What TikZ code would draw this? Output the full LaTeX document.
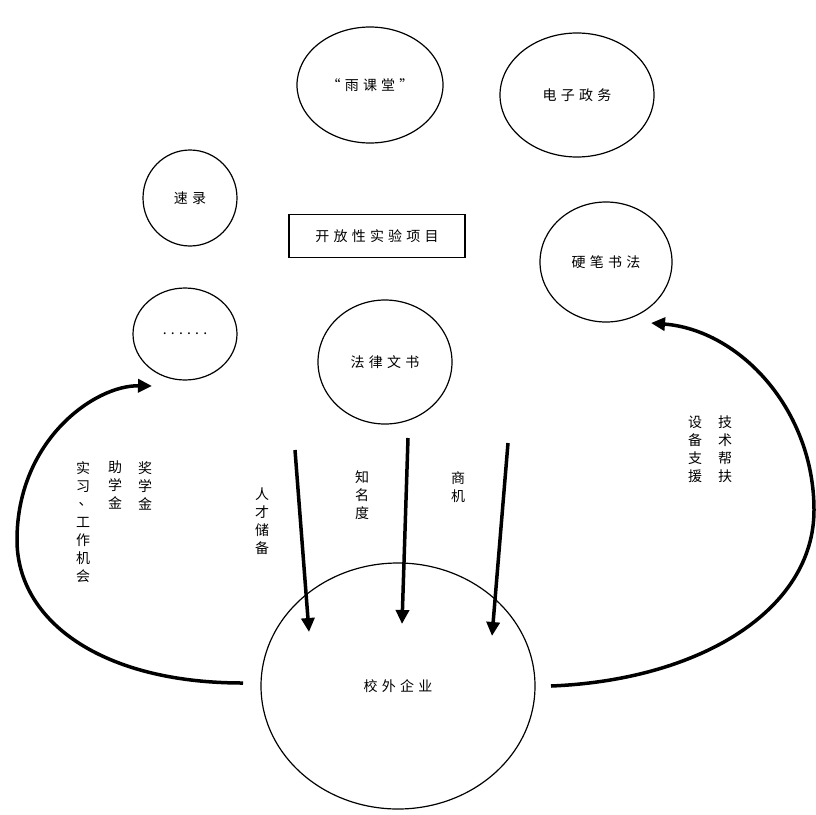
\documentclass[tikz,border=0pt]{standalone}
\usepackage{fontspec}
\newfontfamily\cjk{Noto Sans CJK SC}
\newfontfamily\cjkw[LetterSpace=30]{Noto Sans CJK SC}
\usetikzlibrary{arrows.meta,shapes.geometric}
\begin{document}
\begin{tikzpicture}[x=1pt,y=-1pt,
  bub/.style={draw,ellipse,line width=1.2pt,inner sep=0pt,font=\cjkw\fontsize{14}{16}\selectfont},
  boxn/.style={draw,rectangle,line width=1.4pt,inner sep=0pt,font=\cjkw\fontsize{14}{16}\selectfont},
  vert/.style={font=\cjk\fontsize{14}{18}\selectfont,align=center,inner sep=0pt,anchor=north},
  big/.style={line width=3.5pt,-{Triangle[width=13pt,length=14pt]}}]
\useasboundingbox (0,0) rectangle (816,814);
% bubbles
\node[bub,minimum width=146pt,minimum height=116pt] (ykt) at (370,85) {“雨课堂”};
\node[bub,minimum width=154pt,minimum height=124pt] (dzzw) at (577,95) {电子政务};
\node[bub,minimum width=94pt,minimum height=96pt] (sl) at (190,198) {速录};
\node[boxn,minimum width=176pt,minimum height=43pt] (kfx) at (377,236) {开放性实验项目};
\node[bub,minimum width=132pt,minimum height=120pt] (ybsf) at (606,262) {硬笔书法};
\node[bub,minimum width=104pt,minimum height=92pt] (dots) at (185,334) {......};
\node[bub,minimum width=134pt,minimum height=124pt] (flws) at (385,362) {法律文书};
\node[bub,minimum width=274pt,minimum height=246pt] (xwqy) at (398,686) {校外企业};
% straight arrows
\coordinate (a1s) at (295,450);
\coordinate (a1e) at (309,632);
\coordinate (a2s) at (408,438);
\coordinate (a2e) at (402,624);
\coordinate (a3s) at (508,443);
\coordinate (a3e) at (492,636);
\draw[big] (a1s) -- (a1e);
\draw[big] (a2s) -- (a2e);
\draw[big] (a3s) -- (a3e);
% curved arrows
\coordinate (ls) at (243,683);
\coordinate (lm) at (17,540);
\coordinate (le) at (152,386);
\draw[big] (ls) .. controls (100,683) and (17,620) .. (lm)
  .. controls (17,440) and (95,385) .. (le);
\coordinate (rs) at (551,686);
\coordinate (rm) at (814,510);
\coordinate (re) at (651,323);
\draw[big] (rs) .. controls (700,680) and (814,610) .. (rm)
  .. controls (814,410) and (740,330) .. (re);
% labels
\node[vert] (l1) at (262,488) {人\\才\\储\\备};
\node[vert] (l2) at (362,471) {知\\名\\度};
\node[vert] (l3) at (458,471) {商\\机};
\node[vert] (l4) at (145,461) {奖\\学\\金};
\node[vert] (l5) at (115,461) {助\\学\\金};
\node[vert] (l6) at (83,461) {实\\习\\\raisebox{4pt}{\hspace{5pt}、}\\工\\作\\机\\会};
\node[vert] (l7) at (725,416) {技\\术\\帮\\扶};
\node[vert] (l8) at (695,416) {设\\备\\支\\援};
\end{tikzpicture}
\end{document}
